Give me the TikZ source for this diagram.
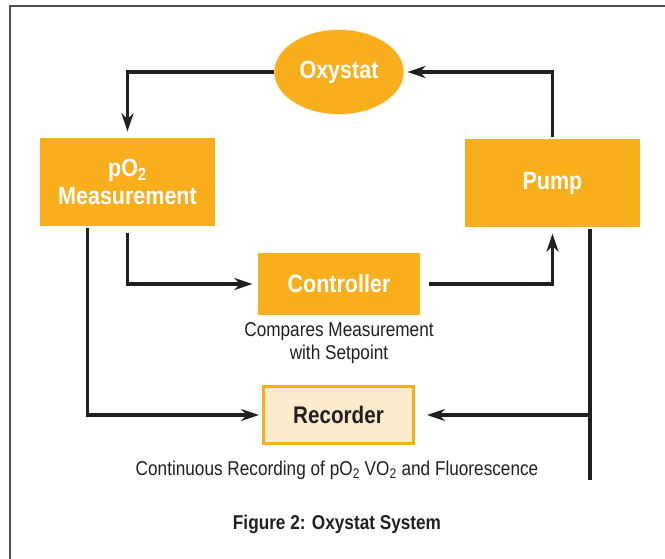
\documentclass[tikz,border=0pt]{standalone}
\usepackage{fontspec}
\setmainfont{Liberation Sans}[FakeStretch=0.86]
\usepackage{xcolor}
\definecolor{oxyorange}{RGB}{249,174,27}
\definecolor{oxycream}{RGB}{253,235,204}
\definecolor{oxyink}{RGB}{35,31,32}
\definecolor{oxyframe}{RGB}{80,80,80}
\usetikzlibrary{arrows.meta,positioning,shapes.geometric}

\begin{document}
\begin{tikzpicture}[->, >={Stealth[length=18pt,width=12pt]}, x=1pt, y=1pt, line width=3.2pt, draw=oxyink, font=\bfseries]
   \tikzstyle{unit}=[rectangle, fill=oxyorange, draw=none, text=white, font=\fontsize{25}{28}\selectfont\bfseries, minimum width=175pt, minimum height=88pt, align=center]
   \tikzstyle{note}=[text=oxyink, font=\fontsize{20}{23}\selectfont, align=center]

   \useasboundingbox (0,0) rectangle (665,558);
   \draw[-, oxyframe, line width=1.8pt] (10,-20) -- (10,552) -- (680,552);

   \node[ellipse, fill=oxyorange, draw=white!80!oxyorange, line width=.8pt, text=white, minimum width=130pt, minimum height=85pt, font=\fontsize{25}{27}\selectfont\bfseries] (oxystat) at (339,486) {Oxystat};
   \node[unit] (meas) at (127.5,376) {pO\textsubscript{2}\\Measurement};
   \node[unit] (pump) at (552.5,375) {Pump};
   \node[unit, minimum width=162pt, minimum height=62pt] (controller) at (339,274) {Controller};
   \node[note] (compares) [below=1pt of controller] {Compares Measurement\\with Setpoint};
   \node[unit, fill=oxycream, draw=oxyorange, line width=3pt, text=oxyink, font=\fontsize{24}{26}\selectfont\bfseries, minimum width=150pt, minimum height=57pt] (recorder) at (338.5,143) {Recorder};
   \node[note] (continuous) at (337,88) {Continuous Recording of pO\textsubscript{2} VO\textsubscript{2} and Fluorescence};
   \node[note, font=\fontsize{20}{22}\selectfont\bfseries] (caption) at (337,34) {Figure 2: Oxystat System};

   \coordinate (tail) at ([xshift=37.5pt]pump.south |- continuous);

   % loop round the top
   \draw[shorten >=5pt] (oxystat) -| (meas);
   \draw[shorten >=3pt] (pump) |- (oxystat);
   % control path
   \draw[shorten <=5pt, shorten >=4pt] (meas) |- (controller);
   \draw[shorten <=7pt, shorten >=5pt] (controller) -| (pump);
   % recording
   \draw[shorten >=3pt] ([xshift=-40pt]meas.south) |- (recorder);
   \draw[-] ([xshift=37.5pt]pump.south) -- ([yshift=-10pt]tail);
   \draw[shorten >=12pt] (tail |- recorder) -- (recorder);
\end{tikzpicture}
\end{document}
